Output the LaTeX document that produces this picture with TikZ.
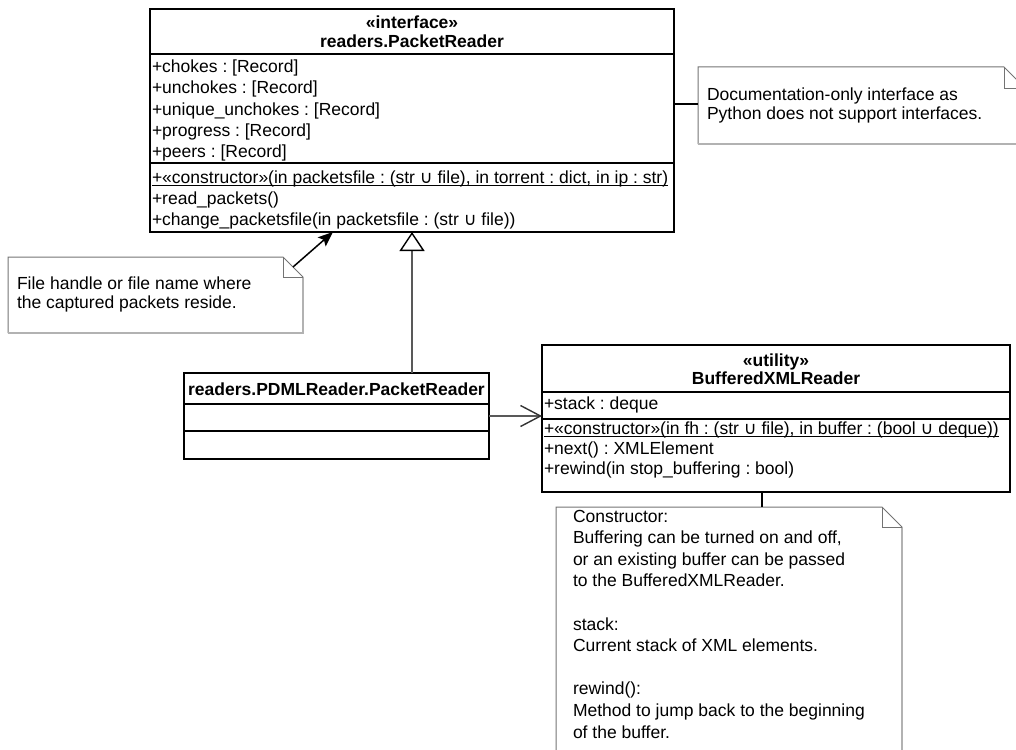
\documentclass[tikz,border=0pt]{standalone}
\usepackage{fontspec}
\setmainfont{Liberation Sans}
\newfontfamily\cupfont{DejaVu Sans}
\usetikzlibrary{arrows.meta,calc}
\frenchspacing

% set union sign, taken from a font that has it
\newcommand\un{{\cupfont ∪}}

% underline sitting just under the baseline
\newsavebox\ulbox
\newcommand\ulined[1]{\sbox\ulbox{#1}\rlap{\rule[-2.6pt]{\wd\ulbox}{0.9pt}}\usebox\ulbox}

% outline of a UML note with a folded corner
\newcommand\drawnote[2]{%
  \draw[noteedge] (#1.south west) -- (#1.north west) -- ($(#1.north east)+(-#2,0)$) -- ($(#1.north east)+(0,#2)$);
  \draw[noteshade] ($(#1.north east)+(0,#2)$) -- (#1.south east) -- (#1.south west);
  \draw[noteedge] ($(#1.north east)+(-#2,0)$) |- ($(#1.north east)+(0,#2)$);
}

\begin{document}
\begin{tikzpicture}[x=1pt,y=-1pt,
  every node/.style={font=\fontsize{17.5}{21}\selectfont, inner sep=0pt, outer sep=0pt},
  classbox/.style={draw=black, line width=1.7pt, anchor=north west, rectangle},
  divider/.style={draw=black, line width=1.7pt},
  notebox/.style={anchor=north west, rectangle},
  noteedge/.style={draw=black!55, line width=1pt},
  noteshade/.style={draw=black!30, line width=1.6pt},
  notelink/.style={draw=black, line width=1.5pt},
  member/.style={anchor=base west},
  title/.style={anchor=base},
  genline/.style={draw=black!65, line width=1.6pt,
    -{Triangle[open,length=19pt,width=25pt,color=black,fill=white,line width=1.4pt]}},
  assocline/.style={draw=black!65, line width=1.6pt,
    -{Straight Barb[length=20pt,width=21pt,line width=1.4pt,color=black!80]}},
]
\useasboundingbox (0,0) rectangle (1016,749);
\clip (0,0) rectangle (1016,749);

% ---------- interface readers.PacketReader ----------
\node[classbox, minimum width=524pt, minimum height=223pt] (pr) at (150,9) {};
\draw[divider] ($(pr.north west)+(0,45)$) -- ($(pr.north east)+(0,45)$);
\draw[divider] ($(pr.north west)+(0,154)$) -- ($(pr.north east)+(0,154)$);
\node[title] (pr-st) at ($(pr.north)+(0,20)$) {\bfseries «interface»};
\node[title] (pr-nm) at ($(pr.north)+(0,39)$) {\bfseries readers.PacketReader};
\foreach \t [count=\i from 0] in {+chokes : [Record], +unchokes : [Record],
    +unique\_unchokes : [Record], +progress : [Record], +peers : [Record]}
  \node[member] (pr-a\i) at ($(pr.north west)+(2,64+21*\i)$) {\t};
\node[member] (pr-m0) at ($(pr.north west)+(2,174)$)
  {\ulined{+«constructor»(in packetsfile : (str \un{} file), in torrent : dict, in ip : str)}};
\node[member] (pr-m1) at ($(pr.north west)+(2,195)$) {+read\_packets()};
\node[member] (pr-m2) at ($(pr.north west)+(2,216)$) {+change\_packetsfile(in packetsfile : (str \un{} file))};

% ---------- readers.PDMLReader.PacketReader ----------
\node[classbox, minimum width=305pt, minimum height=86pt] (pdml) at (184,373) {};
\draw[divider] ($(pdml.north west)+(0,31)$) -- ($(pdml.north east)+(0,31)$);
\draw[divider] ($(pdml.north west)+(0,58)$) -- ($(pdml.north east)+(0,58)$);
\node[title] (pdml-nm) at ($(pdml.north)+(0,22)$) {\bfseries readers.PDMLReader.PacketReader};

% ---------- utility BufferedXMLReader ----------
\node[classbox, minimum width=468pt, minimum height=147pt] (buf) at (542,345) {};
\draw[divider] ($(buf.north west)+(0,47)$) -- ($(buf.north east)+(0,47)$);
\draw[divider] ($(buf.north west)+(0,74)$) -- ($(buf.north east)+(0,74)$);
\node[title] (buf-st) at ($(buf.north)+(0,21)$) {\bfseries «utility»};
\node[title] (buf-nm) at ($(buf.north)+(0,39)$) {\bfseries BufferedXMLReader};
\node[member] (buf-a0) at ($(buf.north west)+(2,64)$) {+stack : deque};
\node[member] (buf-m0) at ($(buf.north west)+(2,89)$)
  {\ulined{+«constructor»(in fh : (str \un{} file), in buffer : (bool \un{} deque))}};
\node[member] (buf-m1) at ($(buf.north west)+(2,109)$) {+next() : XMLElement};
\node[member] (buf-m2) at ($(buf.north west)+(2,129)$) {+rewind(in stop\_buffering : bool)};

% ---------- notes ----------
\node[notebox, minimum width=328pt, minimum height=77pt] (n1) at (698,67) {};
\drawnote{n1}{22}
\node[member] (n1-t0) at ($(n1.north west)+(9,34)$) {Documentation-only interface as};
\node[member] (n1-t1) at ($(n1.north west)+(9,53)$) {Python does not support interfaces.};

\node[notebox, minimum width=295pt, minimum height=76pt] (n2) at (8,257) {};
\drawnote{n2}{20}
\node[member] (n2-t0) at ($(n2.north west)+(9,32)$) {File handle or file name where};
\node[member] (n2-t1) at ($(n2.north west)+(9,51)$) {the captured packets reside.};

\node[notebox, minimum width=346pt, minimum height=270pt] (n3) at (556,507) {};
\drawnote{n3}{20}
\foreach \t/\k in {Constructor:/0, Buffering can be turned on and off{,}/1,
    or an existing buffer can be passed/2, to the BufferedXMLReader./3,
    stack:/5, Current stack of XML elements./6,
    rewind():/8, Method to jump back to the beginning/9, of the buffer./10}
  \node[member] (n3-t\k) at ($(n3.north west)+(17,15+21.6*\k)$) {\t};

% ---------- connectors ----------
\draw[genline] (pr.south |- pdml.north) -- (pr.south);
\draw[assocline] (pdml.east) -- (pdml.east -| buf.west);

\coordinate (n1hook) at ($(pr.north east)+(0,95)$);
\draw[notelink] (n1hook) -- (n1hook -| n1.west);

\coordinate (n2tail) at ($(n2.north east)+(-10,10)$);
\coordinate (n2head) at ($(pr.south west)+(183,0)$);
\draw[notelink, -{Stealth[length=15pt,width=12pt,inset=3pt]}] (n2tail) -- (n2head);

\coordinate (n3hook) at ($(buf.south west)+(220,0)$);
\draw[notelink] (n3hook) -- (n3hook |- n3.north);
\end{tikzpicture}
\end{document}
